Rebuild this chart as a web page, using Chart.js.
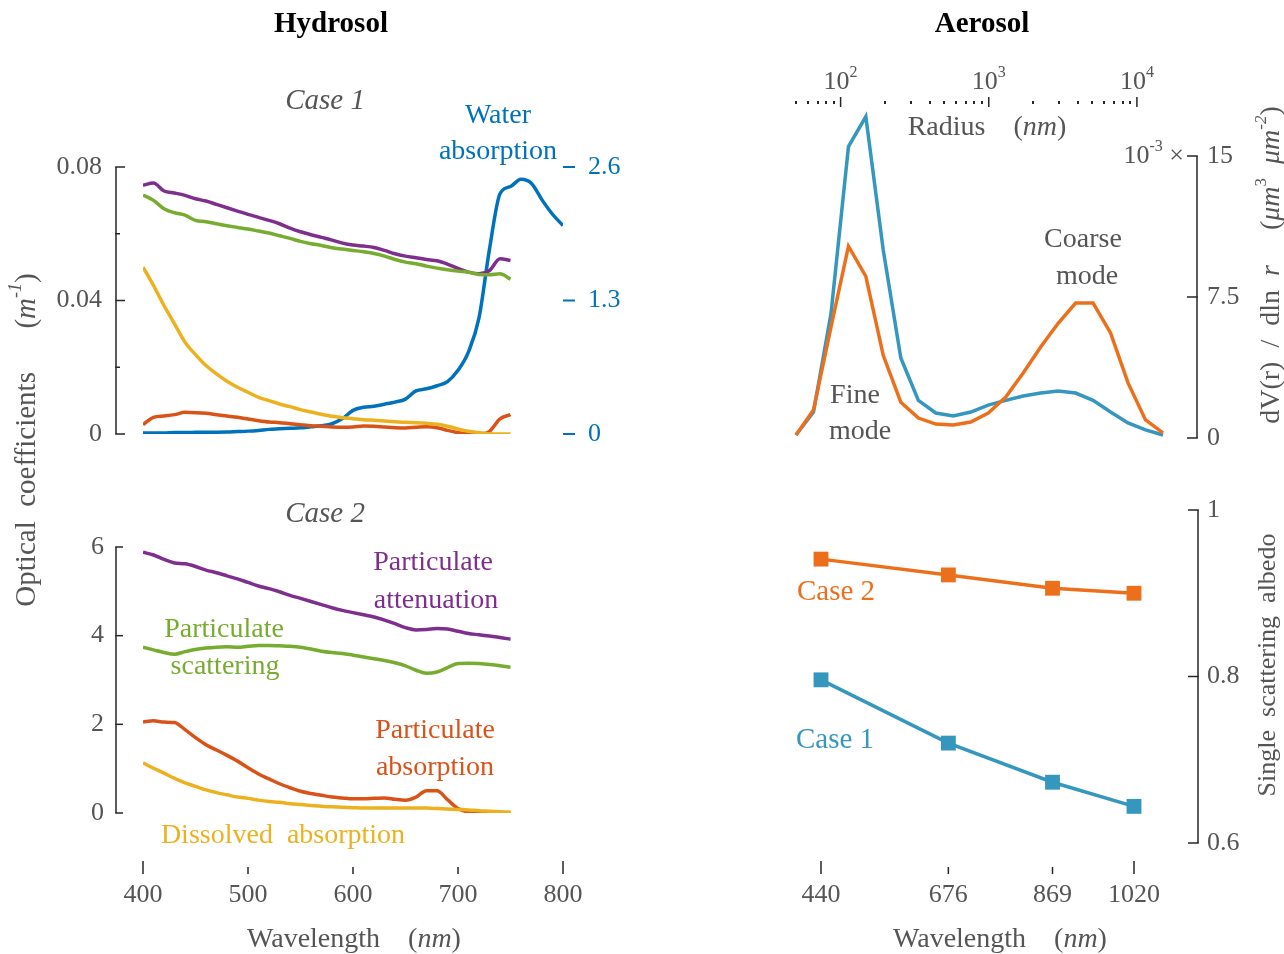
<!DOCTYPE html>
<html>
<head>
<meta charset="utf-8">
<script src="https://cdn.jsdelivr.net/npm/chart.js@4.4.1/dist/chart.umd.min.js"></script>
<style>
  body { margin: 0; background: #fff; width: 1284px; height: 954px; overflow: hidden; position: relative; }
  canvas { position: absolute; left: 0; top: 0; }
</style>
</head>
<body>
<canvas id="hydro1" width="1284" height="954"></canvas>
<canvas id="hydro2" width="1284" height="954"></canvas>
<canvas id="psd" width="1284" height="954"></canvas>
<canvas id="ssa" width="1284" height="954"></canvas>
<script>
// ---- data ----
const wl = [400,410,420,430,440,450,460,470,480,490,500,510,520,530,540,550,560,570,580,590,
            600,610,620,630,640,650,660,670,680,690,700,710,720,730,740,750];
const wlWater = [400,410,420,430,440,450,460,470,480,490,500,510,520,530,540,550,560,570,580,590,
                 600,610,620,630,640,650,660,670,680,690,700,710,720,730,740,750,760,770,780,790,800];

// Case 1 (m-1)
const c1Atten = [0.0745,0.0752,0.0728,0.0722,0.0715,0.0705,0.0698,0.0688,0.0678,0.0668,0.0658,0.0649,0.0640,0.0630,0.0617,0.0606,0.0597,0.0589,0.0581,0.0572,
                 0.0566,0.0563,0.0559,0.0550,0.0540,0.0533,0.0528,0.0523,0.0519,0.0509,0.0496,0.0485,0.0480,0.0490,0.0525,0.0520];
const c1Scat  = [0.0716,0.0700,0.0675,0.0663,0.0656,0.0640,0.0636,0.0630,0.0624,0.0619,0.0614,0.0608,0.0602,0.0594,0.0586,0.0577,0.0570,0.0565,0.0558,0.0554,
                 0.0550,0.0546,0.0541,0.0533,0.0523,0.0515,0.0510,0.0503,0.0497,0.0492,0.0488,0.0485,0.0478,0.0477,0.0480,0.0464];
const c1Abs   = [0.0028,0.0050,0.0054,0.0058,0.0065,0.0064,0.0062,0.0058,0.0054,0.0050,0.0045,0.0040,0.0036,0.0034,0.0031,0.0028,0.0025,0.0023,0.0021,0.0020,
                 0.0021,0.0024,0.0023,0.0021,0.0019,0.0018,0.0020,0.0022,0.0019,0.0011,0.0004,0.0001,0.0000,0.0008,0.0045,0.0058];
const c1Cdom  = [0.0500,0.0445,0.0385,0.0330,0.0275,0.0238,0.0205,0.0180,0.0158,0.0140,0.0125,0.0110,0.0100,0.0090,0.0082,0.0073,0.0066,0.0059,0.0053,0.0049,
                 0.0046,0.0043,0.0041,0.0039,0.0037,0.0035,0.0034,0.0032,0.0029,0.0023,0.0015,0.0008,0.0004,0.0001,0.0000,0.0000];
const waterAbs = [0.01,0.01,0.01,0.015,0.015,0.016,0.017,0.018,0.02,0.024,0.028,0.035,0.045,0.05,0.055,0.06,0.07,0.08,0.10,0.15,
                  0.23,0.26,0.27,0.29,0.31,0.34,0.42,0.44,0.47,0.51,0.62,0.80,1.13,1.80,2.34,2.41,2.48,2.44,2.28,2.14,2.03];

// Case 2 (m-1)
const c2Atten = [5.88,5.82,5.72,5.64,5.62,5.56,5.48,5.42,5.35,5.28,5.20,5.12,5.06,4.99,4.91,4.84,4.77,4.70,4.63,4.57,
                 4.52,4.47,4.42,4.35,4.27,4.18,4.13,4.14,4.16,4.15,4.10,4.05,4.02,3.99,3.96,3.92];
const c2Scat  = [3.74,3.68,3.62,3.58,3.64,3.69,3.72,3.74,3.75,3.74,3.76,3.78,3.78,3.77,3.76,3.74,3.70,3.65,3.62,3.60,
                 3.56,3.52,3.48,3.44,3.39,3.32,3.22,3.15,3.18,3.28,3.37,3.38,3.37,3.35,3.32,3.29];
const c2Abs   = [2.05,2.08,2.05,2.04,1.88,1.70,1.54,1.42,1.30,1.17,1.02,0.88,0.77,0.66,0.57,0.49,0.44,0.40,0.36,0.34,
                 0.32,0.32,0.33,0.34,0.31,0.29,0.36,0.50,0.50,0.30,0.10,0.02,0.00,0.00,0.00,0.00];
const c2Cdom  = [1.13,1.01,0.90,0.78,0.68,0.60,0.52,0.46,0.41,0.36,0.33,0.29,0.26,0.24,0.21,0.19,0.17,0.15,0.14,0.13,
                 0.12,0.11,0.11,0.11,0.11,0.11,0.11,0.11,0.10,0.09,0.08,0.07,0.05,0.04,0.03,0.02];

// Aerosol size distribution (x 1e-3 um3 um-2)
const radiusNm = [50,65.6,86.1,113,148,194,255,335,439,576,756,992,1302,1708,2241,2940,3857,5060,6640,8710,11430,15000];
const psdCase1 = [0.16,1.38,6.6,15.5,17.1,10.0,4.26,2.0,1.33,1.17,1.38,1.75,2.0,2.23,2.39,2.5,2.39,2.0,1.38,0.8,0.43,0.16];
const psdCase2 = [0.16,1.49,5.9,10.2,8.6,4.4,1.9,1.06,0.74,0.69,0.85,1.33,2.18,3.46,4.84,6.1,7.18,7.18,5.59,2.93,0.96,0.27];

// Single scattering albedo
const aerWl = [440,676,869,1020];
const ssaCase1 = [0.796,0.720,0.673,0.644];
const ssaCase2 = [0.941,0.922,0.906,0.900];

// ticks
const hydroTicks = [400,500,600,700,800];
const c1Ticks = [0,0.02,0.04,0.06,0.08];
const c1Labels = [0,0.04,0.08];
const waterTicks = [0,1.3,2.6];
const c2Ticks = [0,2,4,6];
const radiusMajor = [100,1000,10000];
const radiusMinor = [50,60,70,80,90,200,300,400,500,600,700,800,900,2000,3000,4000,5000,6000,7000,8000,9000];
const psdTicks = [0,7.5,15];
const ssaTicks = [0.6,0.8,1];

// ---- styling ----
const FONT = '"Liberation Serif", "Times New Roman", serif';
const GRAY = '#555555';
const AXIS = '#262626';
const PURPLE = '#7E2F8E', GREEN = '#77AC30', RED = '#D95319', YELLOW = '#EDB120', BLUE = '#0072BD';
const A_BLUE = '#3596BE', A_ORANGE = '#EC701C';
const TICK = 26, NOTE = 28, TITLE = 28;

function pts(xs, ys) { return xs.map((x, i) => ({ x: x, y: ys[i] })); }

function line(ctx, x1, y1, x2, y2, color, w) {
  ctx.save();
  ctx.strokeStyle = color; ctx.lineWidth = w || 1.5;
  ctx.beginPath(); ctx.moveTo(x1, y1); ctx.lineTo(x2, y2); ctx.stroke();
  ctx.restore();
}

// parts: [text, flags]  flags: i = italic, b = bold, s = superscript
function rich(ctx, parts, x, y, o) {
  o = o || {};
  const sz = o.size || NOTE;
  ctx.save();
  ctx.translate(x, y);
  if (o.rot) ctx.rotate(o.rot);
  const segs = parts.map(p => {
    const fl = p[1] || '';
    const s = fl.includes('s') ? Math.round(sz * 0.62) : sz;
    const f = (fl.includes('i') ? 'italic ' : '') + (fl.includes('b') ? 'bold ' : '') + s + 'px ' + FONT;
    ctx.font = f;
    return { t: p[0], f: f, w: ctx.measureText(p[0]).width, dy: fl.includes('s') ? -sz * 0.36 : 0 };
  });
  const total = segs.reduce((a, s) => a + s.w, 0);
  let cx = o.align === 'left' ? 0 : o.align === 'right' ? -total : -total / 2;
  ctx.fillStyle = o.color || GRAY;
  ctx.textBaseline = 'middle';
  ctx.textAlign = 'left';
  segs.forEach(s => { ctx.font = s.f; ctx.fillText(s.t, cx, s.dy); cx += s.w; });
  ctx.restore();
}

function txt(ctx, s, x, y, color, align, size) {
  rich(ctx, [[s]], x, y, { color: color, align: align, size: size });
}

function baseOpts(pad, scales) {
  return {
    responsive: false,
    animation: false,
    events: [],
    layout: { padding: pad },
    plugins: { legend: { display: false }, tooltip: { enabled: false } },
    elements: { point: { radius: 0 } },
    scales: scales
  };
}

function ds(data, color, extra) {
  return Object.assign({ data: data, borderColor: color, backgroundColor: color, borderWidth: 3.5,
    fill: false, cubicInterpolationMode: 'monotone', pointRadius: 0 }, extra || {});
}

// ---- Hydrosol, case 1 ----
new Chart(document.getElementById('hydro1').getContext('2d'), {
  type: 'line',
  data: {
    datasets: [
      ds(pts(wl, c1Cdom), YELLOW),
      ds(pts(wl, c1Abs), RED),
      ds(pts(wl, c1Scat), GREEN),
      ds(pts(wl, c1Atten), PURPLE),
      ds(pts(wlWater, waterAbs), BLUE, { yAxisID: 'y2' })
    ]
  },
  options: baseOpts({ left: 143, right: 721, top: 167, bottom: 520 }, {
    x: { type: 'linear', min: 400, max: 800, display: false },
    y: { type: 'linear', min: 0, max: 0.08, display: false },
    y2: { type: 'linear', min: 0, max: 2.6, display: false }
  }),
  plugins: [{
    id: 'axes1',
    afterDraw(chart) {
      const ctx = chart.ctx, y = chart.scales.y, y2 = chart.scales.y2;
      const ax = 116;
      line(ctx, ax, y.getPixelForValue(0), ax, y.getPixelForValue(0.08), AXIS);
      c1Ticks.forEach(v => {
        const py = y.getPixelForValue(v);
        const major = c1Labels.includes(v);
        line(ctx, ax - 0.75, py, ax + (major ? 9 : 4), py, AXIS);
        if (major) txt(ctx, String(v), 102, py, GRAY, 'right', TICK);
      });
      waterTicks.forEach(v => {
        const py = y2.getPixelForValue(v);
        line(ctx, 563, py, 575, py, BLUE, 2);
        txt(ctx, String(v), 588, py, BLUE, 'left', TICK);
      });
      rich(ctx, [['Case 1', 'i']], 325, 101, { size: 29 });
      txt(ctx, 'Water', 498, 116, BLUE);
      txt(ctx, 'absorption', 498, 152, BLUE);
      rich(ctx, [['Hydrosol', 'b']], 331, 25, { color: '#000', size: 29 });
      rich(ctx, [['Aerosol', 'b']], 982, 25, { color: '#000', size: 29 });
      rich(ctx, [['Optical  coefficients      ('], ['m', 'i'], ['-1', 'is'], [')']], 27, 440, { rot: -Math.PI / 2, size: 29 });
    }
  }]
});

// ---- Hydrosol, case 2 ----
new Chart(document.getElementById('hydro2').getContext('2d'), {
  type: 'line',
  data: {
    datasets: [
      ds(pts(wl, c2Cdom), YELLOW),
      ds(pts(wl, c2Abs), RED),
      ds(pts(wl, c2Scat), GREEN),
      ds(pts(wl, c2Atten), PURPLE)
    ]
  },
  options: baseOpts({ left: 143, right: 721, top: 547, bottom: 141 }, {
    x: { type: 'linear', min: 400, max: 800, display: false },
    y: { type: 'linear', min: 0, max: 6, display: false }
  }),
  plugins: [{
    id: 'axes2',
    afterDraw(chart) {
      const ctx = chart.ctx, x = chart.scales.x, y = chart.scales.y;
      const ax = 116;
      line(ctx, ax, y.getPixelForValue(0), ax, y.getPixelForValue(6), AXIS);
      c2Ticks.forEach(v => {
        const py = y.getPixelForValue(v);
        line(ctx, ax - 0.75, py, ax + 7, py, AXIS);
        txt(ctx, String(v), 104, py, GRAY, 'right', TICK);
      });
      hydroTicks.forEach((v, i) => {
        const px = x.getPixelForValue(v);
        const long = i === 0 || i === hydroTicks.length - 1;
        line(ctx, px, long ? 861 : 867, px, 874, AXIS);
        txt(ctx, String(v), px, 895, GRAY, 'center', TICK);
      });
      rich(ctx, [['Wavelength    ('], ['nm', 'i'], [')']], 354, 940, { size: TITLE });
      rich(ctx, [['Case 2', 'i']], 325, 514, { size: 29 });
      txt(ctx, 'Particulate', 433, 563, PURPLE);
      txt(ctx, 'attenuation', 436, 601, PURPLE);
      txt(ctx, 'Particulate', 224, 630, GREEN);
      txt(ctx, 'scattering', 225, 667, GREEN);
      txt(ctx, 'Particulate', 435, 731, RED);
      txt(ctx, 'absorption', 435, 768, RED);
      txt(ctx, 'Dissolved  absorption', 283, 836, YELLOW);
    }
  }]
});

// ---- Aerosol size distribution ----
new Chart(document.getElementById('psd').getContext('2d'), {
  type: 'line',
  data: {
    datasets: [
      ds(pts(radiusNm, psdCase2), A_ORANGE, { cubicInterpolationMode: 'default', tension: 0, clip: false }),
      ds(pts(radiusNm, psdCase1), A_BLUE, { cubicInterpolationMode: 'default', tension: 0, clip: false })
    ]
  },
  options: baseOpts({ left: 796, right: 121, top: 156, bottom: 516 }, {
    x: { type: 'logarithmic', min: 50, max: 15000, display: false },
    y: { type: 'linear', min: 0, max: 15, display: false }
  }),
  plugins: [{
    id: 'axes3',
    afterDraw(chart) {
      const ctx = chart.ctx, x = chart.scales.x, y = chart.scales.y;
      const ty = 102;
      radiusMinor.forEach(v => {
        const px = x.getPixelForValue(v);
        ctx.fillStyle = AXIS;
        ctx.fillRect(Math.round(px) - 1, ty - 1, 2, 3);
      });
      radiusMajor.forEach(v => {
        const px = x.getPixelForValue(v);
        line(ctx, px, ty - 5, px, ty + 5, AXIS);
        rich(ctx, [['10'], [String(Math.round(Math.log10(v))), 's']], px, 82, { size: TICK });
      });
      rich(ctx, [['Radius    ('], ['nm', 'i'], [')']], 987, 128, { size: TITLE });
      const ax = 1197;
      line(ctx, ax, y.getPixelForValue(0), ax, y.getPixelForValue(15), AXIS);
      psdTicks.forEach(v => {
        const py = y.getPixelForValue(v);
        line(ctx, ax - 10, py, ax + 0.75, py, AXIS);
        txt(ctx, String(v), 1207, py, GRAY, 'left', TICK);
      });
      rich(ctx, [['10'], ['-3', 's'], [' \u00d7']], 1184, y.getPixelForValue(15), { align: 'right', size: TICK });
      rich(ctx, [['dV(r)  /  dln  '], ['r', 'i'], ['     ('], ['\u03bcm', 'i'], ['3', 's'], ['  '], ['\u03bcm', 'i'], ['-2', 'is'], [')']],
        1272, 265, { rot: -Math.PI / 2, size: TITLE });
      txt(ctx, 'Fine', 855, 396, GRAY);
      txt(ctx, 'mode', 860, 432, GRAY);
      txt(ctx, 'Coarse', 1083, 240, GRAY);
      txt(ctx, 'mode', 1087, 277, GRAY);
    }
  }]
});

// ---- Single scattering albedo ----
new Chart(document.getElementById('ssa').getContext('2d'), {
  type: 'line',
  data: {
    datasets: [
      ds(pts(aerWl, ssaCase2), A_ORANGE, { cubicInterpolationMode: 'default', tension: 0, clip: false,
        pointStyle: 'rect', pointRadius: 10.5, pointBorderWidth: 0 }),
      ds(pts(aerWl, ssaCase1), A_BLUE, { cubicInterpolationMode: 'default', tension: 0, clip: false,
        pointStyle: 'rect', pointRadius: 10.5, pointBorderWidth: 0 })
    ]
  },
  options: baseOpts({ left: 821, right: 150, top: 510, bottom: 111 }, {
    x: { type: 'linear', min: 440, max: 1020, display: false },
    y: { type: 'linear', min: 0.6, max: 1, display: false }
  }),
  plugins: [{
    id: 'axes4',
    afterDraw(chart) {
      const ctx = chart.ctx, x = chart.scales.x, y = chart.scales.y;
      const ax = 1198;
      line(ctx, ax, y.getPixelForValue(0.6), ax, y.getPixelForValue(1), AXIS);
      ssaTicks.forEach(v => {
        const py = y.getPixelForValue(v);
        line(ctx, ax - 10, py, ax + 0.75, py, AXIS);
        txt(ctx, String(v), 1207, py, GRAY, 'left', TICK);
      });
      aerWl.forEach((v, i) => {
        const px = x.getPixelForValue(v);
        const long = i === 0 || i === aerWl.length - 1;
        line(ctx, px, long ? 861 : 867, px, 874, AXIS);
        txt(ctx, String(v), px, 895, GRAY, 'center', TICK);
      });
      rich(ctx, [['Wavelength    ('], ['nm', 'i'], [')']], 1000, 940, { size: TITLE });
      rich(ctx, [['Single  scattering  albedo']], 1268, 665, { rot: -Math.PI / 2, size: 26 });
      txt(ctx, 'Case 2', 836, 592, A_ORANGE, 'center', 29);
      txt(ctx, 'Case 1', 835, 740, A_BLUE, 'center', 29);
    }
  }]
});
</script>
</body>
</html>
